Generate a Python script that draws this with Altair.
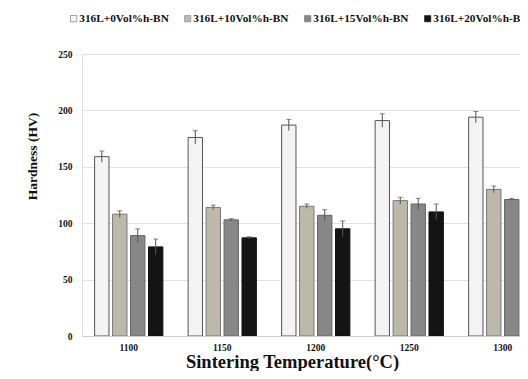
import altair as alt
import pandas as pd

temps = ["1100", "1150", "1200", "1250", "1300"]
series = ["316L+0Vol%h-BN", "316L+10Vol%h-BN", "316L+15Vol%h-BN", "316L+20Vol%h-BN"]
hardness = {
    "316L+0Vol%h-BN": [159, 176, 187, 191, 194],
    "316L+10Vol%h-BN": [108, 114, 115, 120, 130],
    "316L+15Vol%h-BN": [89, 103, 107, 117, 121],
    "316L+20Vol%h-BN": [79, 87, 95, 110, 119],
}
errors = {
    "316L+0Vol%h-BN": [5, 6, 5, 6, 5],
    "316L+10Vol%h-BN": [3, 2, 2, 3, 3],
    "316L+15Vol%h-BN": [6, 1, 5, 5, 1],
    "316L+20Vol%h-BN": [7, 1, 7, 7, 1],
}
fills = ["#f3f3f3", "#bdb9aa", "#878787", "#141414"]
strokes = ["#555555", "#777777", "#666666", "#111111"]

rows = []
for s in series:
    for t, v, e in zip(temps, hardness[s], errors[s]):
        rows.append({"temp": t, "series": s, "hv": v, "lo": v - e, "hi": v + e})
df = pd.DataFrame(rows)

font = "Liberation Serif"
x = alt.X("temp:N", sort=temps,
          scale=alt.Scale(range=[0, 467.5], paddingInner=0.27, paddingOuter=0.135),
          axis=alt.Axis(title="Sintering Temperature(°C)", labelAngle=0, ticks=False,
                        labelPadding=6, labelFontSize=9.5, labelFontWeight="bold",
                        labelFont=font, labelColor="#111",
                        titleFont=font, titleFontSize=18.5, titleFontWeight="bold",
                        titleColor="#111", titleX=210, titleY=31,
                        titleBaseline="alphabetic",
                        domainColor="#cccccc", grid=False))
xo = alt.XOffset("series:N", sort=series, scale=alt.Scale(paddingInner=0.2))
color = alt.Color("series:N", sort=series,
                  scale=alt.Scale(domain=series, range=fills),
                  legend=alt.Legend(title=None, orient="none", direction="horizontal",
                                    legendX=-14, legendY=-41, symbolType="square",
                                    symbolSize=40, symbolStrokeColor="#777",
                                    symbolStrokeWidth=0.5,
                                    labelFont=font, labelFontSize=11.3, labelFontWeight="bold",
                                    labelColor="#111", columnPadding=13, labelOffset=0))

bars = alt.Chart(df).mark_bar(clip=True, strokeWidth=1).encode(
    x=x, xOffset=xo,
    y=alt.Y("hv:Q", scale=alt.Scale(domain=[0, 250], nice=False),
            axis=alt.Axis(values=[0, 50, 100, 150, 200, 250], title="Hardness (HV)",
                          ticks=False, domain=False, labelPadding=10,
                          labelFont=font, labelFontSize=9.5, labelFontWeight="bold",
                          labelColor="#111", gridColor="#e2e2e2",
                          titleFont=font, titleFontSize=13.5, titleFontWeight="bold",
                          titleColor="#111", titleY=102, titlePadding=18)),
    color=color,
    stroke=alt.Stroke("series:N", sort=series,
                      scale=alt.Scale(domain=series, range=strokes), legend=None),
)

err = alt.Chart(df).mark_rule(clip=True, color="#555555", strokeWidth=1).encode(
    x=alt.X("temp:N", sort=temps), xOffset=alt.XOffset("series:N", sort=series),
    y="lo:Q", y2="hi:Q",
)
caps = alt.Chart(df).mark_tick(clip=True, color="#555555", thickness=1, size=5).encode(
    x=alt.X("temp:N", sort=temps), xOffset=alt.XOffset("series:N", sort=series),
    y="hi:Q",
)

chart = alt.layer(bars, err, caps).properties(
    width=438, height=282,
    autosize=alt.AutoSizeParams(type="none"),
    padding={"left": 74, "top": 46, "right": 0, "bottom": 35},
).configure_view(stroke=None).configure(background="white")

chart.save("out.html", embed_options={"renderer": "svg", "actions": False})
